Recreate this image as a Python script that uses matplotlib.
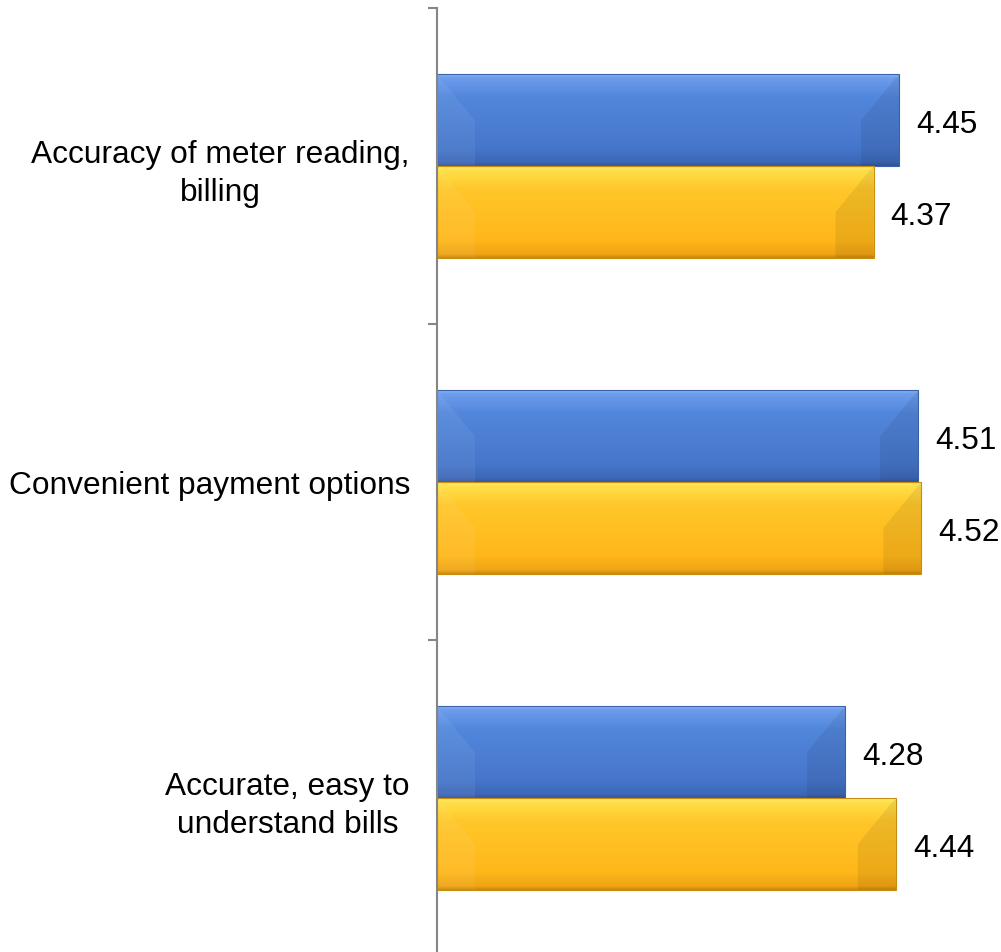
import numpy as np
import matplotlib
matplotlib.use('Agg')
import matplotlib.pyplot as plt
from matplotlib.colors import LinearSegmentedColormap
from matplotlib.patches import Polygon

categories = ['Accuracy of meter reading,\nbilling',
              'Convenient payment options',
              'Accurate, easy to\nunderstand bills']
blue_values = [4.45, 4.51, 4.28]
gold_values = [4.37, 4.52, 4.44]

plt.rcParams['font.family'] = ['Liberation Sans', 'DejaVu Sans']

W, H = 1001, 952
fig = plt.figure(figsize=(W / 100, H / 100), dpi=100)
ax = fig.add_axes([437 / W, -4 / H, 1 - 437 / W, 948 / H])
x_min, x_max = 3.0, 4.77
ax.set_xlim(x_min, x_max)
ax.set_ylim(2.5, -0.5)

# data units per pixel, used for bevel sizes and label offsets
px_x = (x_max - x_min) / (W - 437)
px_y = 3.0 / 948

bar_h = 0.29
blue_cmap = LinearSegmentedColormap.from_list(
    'blue', [(0, '#8db5f7'), (0.04, '#6d9cec'), (0.25, '#5287dc'),
             (0.8, '#4676cb'), (0.96, '#3d68b8'), (1, '#34579a')])
gold_cmap = LinearSegmentedColormap.from_list(
    'gold', [(0, '#fff07a'), (0.04, '#ffe04a'), (0.25, '#ffc72a'),
             (0.8, '#ffb71a'), (0.96, '#f0a414'), (1, '#c8870c')])
grad = np.linspace(0, 1, 256).reshape(-1, 1)


def draw_bar(y, value, cmap, edge):
    rect = ax.barh(y, value - x_min, left=x_min, height=bar_h,
                   color='none', edgecolor=edge, linewidth=0.8, zorder=3)[0]
    top, bot = y - bar_h / 2, y + bar_h / 2
    im = ax.imshow(grad, cmap=cmap, aspect='auto', interpolation='bilinear',
                   extent=(x_min, value, bot, top), zorder=2)
    im.set_clip_path(rect)
    bx, by = 38 * px_x, 46 * px_y
    left = Polygon([(x_min, top), (x_min + bx, top + by), (x_min + bx, bot),
                    (x_min, bot)], closed=True, facecolor='white',
                   alpha=0.06, lw=0, zorder=2.5)
    right = Polygon([(value, top), (value - bx, top + by), (value - bx, bot),
                     (value, bot)], closed=True, facecolor='black',
                    alpha=0.07, lw=0, zorder=2.5)
    ax.add_patch(left)
    ax.add_patch(right)
    ax.text(value + 17 * px_x, y + 5 * px_y, f'{value:.2f}',
            va='center', ha='left', fontsize=22.8, color='black', zorder=4)


ypos = np.arange(len(categories))
for i in ypos:
    draw_bar(i - bar_h / 2, blue_values[i], blue_cmap, '#3a62a8')
    draw_bar(i + bar_h / 2, gold_values[i], gold_cmap, '#c98e10')

ax.set_yticks(ypos)
ax.set_yticklabels(categories, fontsize=22.8, multialignment='center',
                   linespacing=1.35)
ax.set_yticks([-0.5, 0.5, 1.5, 2.5], minor=True)
ax.tick_params(axis='y', which='major', length=0, pad=19.5)
ax.tick_params(axis='y', which='minor', length=9 * 0.72, width=1.5,
               color='#868686')
ax.set_xticks([])
for side in ['top', 'right', 'bottom']:
    ax.spines[side].set_visible(False)
ax.spines['left'].set_color('#868686')
ax.spines['left'].set_linewidth(1.5)
ax.spines['left'].set_zorder(5)

fig.savefig('out.png', dpi=100)
